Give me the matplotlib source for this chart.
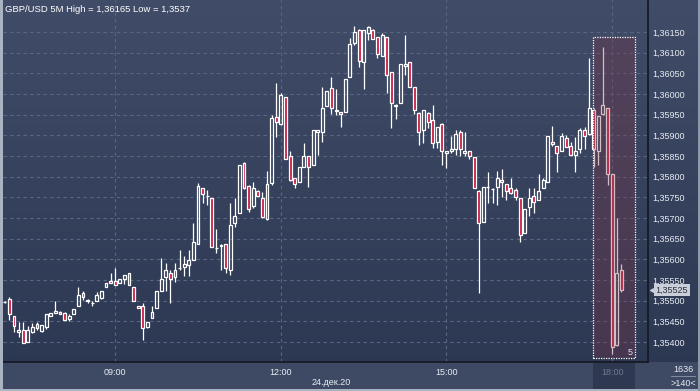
import matplotlib
matplotlib.use("Agg")
import matplotlib.pyplot as plt
import matplotlib.transforms as mtransforms
from matplotlib.patches import Rectangle
from matplotlib.ticker import FuncFormatter
import numpy as np

# GBP/USD 5M candles, 07:00 .. 18:10
OPEN = [1.35497, 1.35503, 1.35463, 1.35424, 1.35429, 1.35401, 1.35424, 1.35444, 1.35427, 1.35437,
        1.35463, 1.35471, 1.35473, 1.35471, 1.35456, 1.35467, 1.35486, 1.35518, 1.35502, 1.35495,
        1.35498, 1.35507, 1.35532, 1.35547, 1.35547, 1.35542, 1.35552, 1.35566, 1.35533, 1.35486,
        1.35486, 1.35437, 1.35457, 1.35482, 1.35523, 1.35557, 1.35566, 1.35557, 1.35579, 1.35582,
        1.35587, 1.35599, 1.35636, 1.35772, 1.35753, 1.35748, 1.35628, 1.35633, 1.35636, 1.35574,
        1.35687, 1.35711, 1.35832, 1.35778, 1.35728, 1.35766, 1.35748, 1.35697, 1.35784, 1.35945,
        1.35927, 1.35992, 1.35849, 1.35796, 1.35786, 1.35824, 1.35849, 1.35828, 1.35909, 1.35907,
        1.35972, 1.36015, 1.35961, 1.35956, 1.35956, 1.36040, 1.36124, 1.36156, 1.36077, 1.36147,
        1.36156, 1.36137, 1.36092, 1.36137, 1.36052, 1.35973, 1.35977, 1.36068, 1.36077, 1.36016,
        1.35955, 1.35913, 1.35955, 1.35937, 1.35885, 1.35927, 1.35857, 1.35861, 1.35866, 1.35907,
        1.35857, 1.35861, 1.35847, 1.35766, 1.35691, 1.35776, 1.35770, 1.35776, 1.35791, 1.35782,
        1.35772, 1.35768, 1.35748, 1.35663, 1.35726, 1.35753, 1.35744, 1.35772, 1.35786, 1.35885,
        1.35873, 1.35862, 1.35893, 1.35874, 1.35853, 1.35866, 1.35913, 1.35903, 1.35961, 1.35861,
        1.35951, 1.35965, 1.35806, 1.35393, 1.35574]
HIGH = [1.35499, 1.35510, 1.35464, 1.35449, 1.35449, 1.35439, 1.35447, 1.35449, 1.35442, 1.35468,
        1.35470, 1.35499, 1.35474, 1.35472, 1.35468, 1.35481, 1.35534, 1.35523, 1.35503, 1.35499,
        1.35520, 1.35524, 1.35542, 1.35566, 1.35578, 1.35552, 1.35561, 1.35566, 1.35533, 1.35487,
        1.35494, 1.35448, 1.35487, 1.35523, 1.35603, 1.35590, 1.35574, 1.35590, 1.35623, 1.35607,
        1.35623, 1.35687, 1.35784, 1.35773, 1.35768, 1.35749, 1.35673, 1.35636, 1.35638, 1.35736,
        1.35748, 1.35828, 1.35835, 1.35779, 1.35787, 1.35767, 1.35762, 1.35814, 1.35949, 1.36026,
        1.36003, 1.35993, 1.35861, 1.35797, 1.35824, 1.35881, 1.35850, 1.35913, 1.35914, 1.36018,
        1.36007, 1.36040, 1.36011, 1.35957, 1.36036, 1.36135, 1.36165, 1.36157, 1.36156, 1.36165,
        1.36157, 1.36138, 1.36147, 1.36138, 1.36053, 1.35975, 1.36072, 1.36143, 1.36078, 1.36017,
        1.35956, 1.35961, 1.35956, 1.35974, 1.35921, 1.35931, 1.35861, 1.35899, 1.35913, 1.35913,
        1.35907, 1.35862, 1.35848, 1.35767, 1.35776, 1.35812, 1.35772, 1.35814, 1.35818, 1.35783,
        1.35796, 1.35772, 1.35749, 1.35721, 1.35772, 1.35772, 1.35806, 1.35796, 1.35899, 1.35923,
        1.35874, 1.35905, 1.35901, 1.35885, 1.35897, 1.35917, 1.35921, 1.36086, 1.35965, 1.35947,
        1.36114, 1.35966, 1.35807, 1.35700, 1.35589]
LOW = [1.35494, 1.35453, 1.35425, 1.35413, 1.35397, 1.35401, 1.35422, 1.35429, 1.35423, 1.35432,
       1.35463, 1.35471, 1.35467, 1.35453, 1.35452, 1.35467, 1.35486, 1.35502, 1.35494, 1.35486,
       1.35498, 1.35503, 1.35532, 1.35542, 1.35538, 1.35542, 1.35540, 1.35537, 1.35498, 1.35482,
       1.35405, 1.35433, 1.35457, 1.35482, 1.35523, 1.35523, 1.35494, 1.35546, 1.35574, 1.35560,
       1.35560, 1.35599, 1.35636, 1.35736, 1.35732, 1.35631, 1.35615, 1.35575, 1.35566, 1.35562,
       1.35679, 1.35711, 1.35770, 1.35715, 1.35725, 1.35753, 1.35700, 1.35695, 1.35780, 1.35897,
       1.35925, 1.35842, 1.35790, 1.35772, 1.35786, 1.35824, 1.35776, 1.35828, 1.35853, 1.35885,
       1.35972, 1.35951, 1.35949, 1.35921, 1.35956, 1.36040, 1.36119, 1.36066, 1.36011, 1.36131,
       1.36133, 1.36086, 1.36092, 1.36002, 1.35917, 1.35940, 1.35977, 1.36046, 1.36016, 1.35951,
       1.35877, 1.35881, 1.35917, 1.35870, 1.35869, 1.35827, 1.35822, 1.35857, 1.35853, 1.35850,
       1.35850, 1.35842, 1.35772, 1.35518, 1.35691, 1.35737, 1.35737, 1.35732, 1.35752, 1.35744,
       1.35758, 1.35744, 1.35641, 1.35663, 1.35705, 1.35712, 1.35744, 1.35772, 1.35786, 1.35874,
       1.35812, 1.35862, 1.35871, 1.35853, 1.35812, 1.35857, 1.35866, 1.35900, 1.35824, 1.35827,
       1.35950, 1.35780, 1.35370, 1.35390, 1.35520]
CLOSE = [1.35496, 1.35467, 1.35439, 1.35429, 1.35397, 1.35429, 1.35437, 1.35433, 1.35442, 1.35468,
         1.35470, 1.35476, 1.35467, 1.35453, 1.35463, 1.35481, 1.35513, 1.35508, 1.35498, 1.35495,
         1.35513, 1.35524, 1.35542, 1.35542, 1.35538, 1.35552, 1.35561, 1.35537, 1.35498, 1.35482,
         1.35433, 1.35448, 1.35472, 1.35523, 1.35552, 1.35573, 1.35553, 1.35573, 1.35579, 1.35588,
         1.35598, 1.35641, 1.35777, 1.35758, 1.35753, 1.35631, 1.35627, 1.35635, 1.35578, 1.35683,
         1.35706, 1.35828, 1.35772, 1.35721, 1.35772, 1.35753, 1.35703, 1.35782, 1.35941, 1.35933,
         1.35998, 1.35842, 1.35792, 1.35782, 1.35824, 1.35849, 1.35824, 1.35913, 1.35913, 1.35965,
         1.36007, 1.35965, 1.35960, 1.35951, 1.36036, 1.36121, 1.36151, 1.36081, 1.36156, 1.36161,
         1.36133, 1.36096, 1.36143, 1.36046, 1.35977, 1.35972, 1.36072, 1.36072, 1.36016, 1.35961,
         1.35909, 1.35961, 1.35933, 1.35881, 1.35921, 1.35861, 1.35861, 1.35866, 1.35903, 1.35866,
         1.35861, 1.35851, 1.35772, 1.35687, 1.35776, 1.35775, 1.35770, 1.35796, 1.35786, 1.35766,
         1.35761, 1.35752, 1.35659, 1.35721, 1.35748, 1.35738, 1.35766, 1.35792, 1.35899, 1.35879,
         1.35857, 1.35899, 1.35871, 1.35853, 1.35861, 1.35913, 1.35899, 1.35965, 1.35866, 1.35947,
         1.35973, 1.35806, 1.35389, 1.35568, 1.35525]

TIME_TICKS = [24, 60, 96, 132]
TIME_LABELS = ["09:00", "12:00", "15:00", "18:00"]
PRICE_TICKS = [1.3540, 1.3545, 1.3550, 1.3555, 1.3560, 1.3565, 1.3570, 1.3575,
               1.3580, 1.3585, 1.3590, 1.3595, 1.3600, 1.3605, 1.3610, 1.3615]
LAST_PRICE = 1.35525
HI_X0, HI_X1 = 127.9, 136.9          # highlighted zone (bars)
HI_Y0, HI_Y1 = 1.35361, 1.36138

BG_TOP = "#414d68"; BG_BOT = "#2b3651"
C_RED = "#c8173f"; C_GRID = "#5b6782"; C_TXT = "#e8ecf2"
plt.rcParams["font.family"] = ["Liberation Sans", "DejaVu Sans"]
FS = 6.5

fig = plt.figure(figsize=(7.0, 3.91), dpi=100)
W, H = 700.0, 391.0

# gradient background over whole figure
bg = fig.add_axes([0, 0, 1, 1], zorder=0)
c0 = np.array(matplotlib.colors.to_rgb(BG_TOP)); c1 = np.array(matplotlib.colors.to_rgb(BG_BOT))
t = np.linspace(0, 1, 256)[:, None, None]
bg.imshow(c0 * (1 - t) + c1 * t, aspect="auto", extent=[0, 1, 0, 1])
bg.set_axis_off()
# bottom panel and outer frame
fig.patches.append(Rectangle((0, 0), 1, 29 / H, transform=fig.transFigure, fc="#3e4a64", ec="none", zorder=1))
fig.patches.append(Rectangle((0, 0), 3 / W, 1, transform=fig.transFigure, fc="#a9b3c2", ec="none", zorder=5))
fig.patches.append(Rectangle((0, 0), 1, 2 / H, transform=fig.transFigure, fc="#a9b3c2", ec="none", zorder=5))
fig.patches.append(Rectangle((698 / W, 0), 2 / W, 1, transform=fig.transFigure, fc="#8d98aa", ec="none", zorder=5))

ax = fig.add_axes([3 / W, 29 / H, 645 / W, 362 / H], zorder=2)
ax.set_facecolor("none")
n = len(OPEN)
x = np.arange(n)
o = np.array(OPEN); h = np.array(HIGH); l = np.array(LOW); c = np.array(CLOSE)
top = np.maximum(o, c); bot = np.minimum(o, c)
ax.vlines(x, top, h, color="white", lw=0.9, zorder=3)
ax.vlines(x, l, bot, color="white", lw=0.9, zorder=3)
down = c < o
ax.bar(x, np.maximum(top - bot, 0.000004), bottom=bot, width=0.62,
       color=np.where(down, C_RED, "none"), edgecolor="white", linewidth=0.9, zorder=4)

ax.set_xlim(-0.4, 139.8)
ax.set_ylim(1.353516, 1.362274)
for y in PRICE_TICKS:
    ax.axhline(y, color=C_GRID, lw=0.8, ls=(0, (3, 3)), zorder=1)
for tx in TIME_TICKS:
    ax.axvline(tx, color=C_GRID, lw=0.8, ls=(0, (3, 3)), zorder=1)

# highlighted zone
ax.add_patch(Rectangle((HI_X0, HI_Y0), HI_X1 - HI_X0, HI_Y1 - HI_Y0, fc="#7c3447", alpha=0.32,
                       ec="none", zorder=5))
ax.add_patch(Rectangle((HI_X0, HI_Y0), HI_X1 - HI_X0, HI_Y1 - HI_Y0, fc="none", ec="white",
                       lw=0.9, ls=(0, (1, 1)), zorder=6))
ax.text(HI_X1 - 0.5, HI_Y0 + 0.00003, "5", color="#dde2ea", fontsize=FS, ha="right", va="bottom", zorder=7)

for s in ["top", "left"]:
    ax.spines[s].set_visible(False)
for s in ["right", "bottom"]:
    ax.spines[s].set_color("#161b25"); ax.spines[s].set_linewidth(1.3)

ax.yaxis.tick_right()
ax.set_yticks(PRICE_TICKS)
ax.yaxis.set_major_formatter(FuncFormatter(lambda v, p: ("%.5f" % v).replace(".", ",")))
ax.tick_params(axis="y", length=0, pad=3, labelsize=FS, labelcolor=C_TXT)
ax.set_xticks(TIME_TICKS)
ax.set_xticklabels(TIME_LABELS)
ax.tick_params(axis="x", length=0, pad=4, labelsize=FS, labelcolor=C_TXT)
ax.get_xticklabels()[-1].set_color("#6f7a90")

# dark zone below the highlight in the time panel
ax.add_patch(Rectangle((HI_X0, -0.075), HI_X1 - HI_X0, 0.075, transform=mtransforms.blended_transform_factory(ax.transData, ax.transAxes),
                       fc="#2e3850", ec="none", clip_on=False, zorder=0))
ax.text(71, -0.058, "24.дек.20", transform=mtransforms.blended_transform_factory(ax.transData, ax.transAxes),
        ha="center", va="center", fontsize=FS, color=C_TXT)

# title
ax.text(0.003, 0.985, "GBP/USD 5M High = 1,36165 Low = 1,3537", transform=ax.transAxes,
        ha="left", va="top", fontsize=FS + 0.3, color="white")

# last price marker
bt = mtransforms.blended_transform_factory(ax.transAxes, ax.transData)
ax.text(1.012, LAST_PRICE, ("%.5f" % LAST_PRICE).replace(".", ","), transform=bt, ha="left", va="center",
        fontsize=FS, color="#2a2f3a", zorder=8, clip_on=False,
        bbox=dict(boxstyle="square,pad=0.18", fc="#c9ced8", ec="none"))
ax.plot([1.008], [LAST_PRICE], marker="<", ms=5, color="#c9ced8", transform=bt, clip_on=False, zorder=8)

# bar counter box, bottom right
fig.text(683 / W, 22 / H, "1636", ha="center", va="center", fontsize=FS, color=C_TXT)
fig.text(683 / W, 8 / H, ">140<", ha="center", va="center", fontsize=FS, color=C_TXT)
fig.add_artist(plt.Line2D([671 / W, 695 / W], [15 / H, 15 / H], color="#8d98aa", lw=0.6))

fig.savefig("out.png", dpi=100)
